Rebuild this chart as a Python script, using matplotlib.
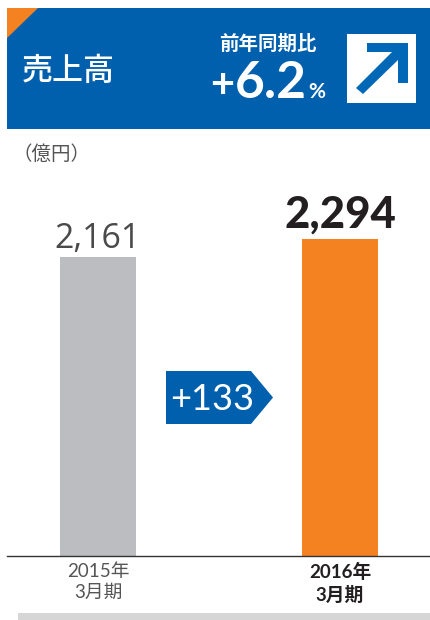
import matplotlib
matplotlib.use('Agg')
import matplotlib.pyplot as plt
from matplotlib.patches import Polygon, Rectangle

W, H = 431, 620

# data
periods = ['2015年\n3月期', '2016年\n3月期']
sales = [2161, 2294]
value_labels = ['2,161', '2,294']
bar_colors = ['#bcbdc1', '#f58220']
diff_label = '+133'
BLUE = '#0060ae'
ORANGE = '#f58220'
FONTS = ['Lato', 'Noto Sans CJK JP', 'DejaVu Sans']
CJK = ['Noto Sans CJK JP', 'DejaVu Sans']

fig = plt.figure(figsize=(W / 100, H / 100), dpi=100, facecolor='white')

# overlay in pixel coords for the header and callout
bg = fig.add_axes([0, 0, 1, 1])
bg.set_xlim(0, W)
bg.set_ylim(H, 0)
bg.axis('off')

bg.add_patch(Rectangle((7, 8), 424, 121, color=BLUE, lw=0))
bg.add_patch(Polygon([(7, 8), (38, 8), (7, 38)], color=ORANGE, lw=0))
bg.add_patch(Rectangle((347, 34), 69, 69, color='white', lw=0))
bg.add_patch(Polygon([(367, 43), (408, 43), (408, 83), (398, 83), (398, 60),
                      (363, 94), (356, 88), (392, 52), (367, 52)],
                     color='#0068b7', lw=0))
bg.add_patch(Rectangle((18, 613), 413, 7, color='#d6d6d6', lw=0))
bg.add_patch(Polygon([(166, 371), (251, 371), (273, 397.5), (251, 424), (166, 424)],
                     color=BLUE, lw=0))

bg.text(68, 70.5, '売上高', color='white', fontsize=22.3, ha='center', va='center',
        family=CJK, weight='medium')
bg.text(268, 44, '前年同期比', color='white', fontsize=14, ha='center', va='center',
        family=CJK, weight='bold')
bg.text(210, 98, '+', color='white', fontsize=30, ha='left', va='baseline',
        family='Lato', weight='bold')
bg.text(235, 98, '6.2', color='white', fontsize=37, ha='left', va='baseline',
        family='Lato', weight='bold')
bg.text(308, 98, '%', color='white', fontsize=15, ha='left', va='baseline',
        family='Lato', weight='bold')
bg.text(12.5, 154, '（億円）', color='#555555', fontsize=14, ha='left', va='center',
        family=CJK)
bg.text(212, 399, diff_label, color='white', fontsize=26, ha='center', va='center',
        family='Lato')

# bars
ax = fig.add_axes([7 / W, (H - 556) / H, 424 / W, 376 / H], facecolor='none')
ax.bar([0, 1], sales, width=0.314, color=bar_colors)
ax.set_xlim(-0.376, 1.376)
ax.set_ylim(0, 2717.5)
for s in ['top', 'left', 'right']:
    ax.spines[s].set_visible(False)
ax.spines['bottom'].set_color('#333333')
ax.spines['bottom'].set_linewidth(1)
ax.set_yticks([])
ax.set_xticks([0, 1])
ax.set_xticklabels(periods, fontsize=13.5, family=FONTS, linespacing=1.3)
ax.tick_params(axis='x', length=0, pad=5)
labels = ax.get_xticklabels()
labels[0].set_color('#555555')
labels[1].set_color('#231f20')
labels[1].set_weight('bold')

ax.annotate(value_labels[0], (0, sales[0]), xytext=(0, 1), textcoords='offset points',
            ha='center', va='bottom', fontsize=24.5, family='Open Sans', color='#4a4a4a')
ax.annotate(value_labels[1], (1, sales[1]), xytext=(0, 3), textcoords='offset points',
            ha='center', va='bottom', fontsize=31.5, family='Lato', weight='black', color='#231f20')

fig.savefig('out.png', dpi=100)
